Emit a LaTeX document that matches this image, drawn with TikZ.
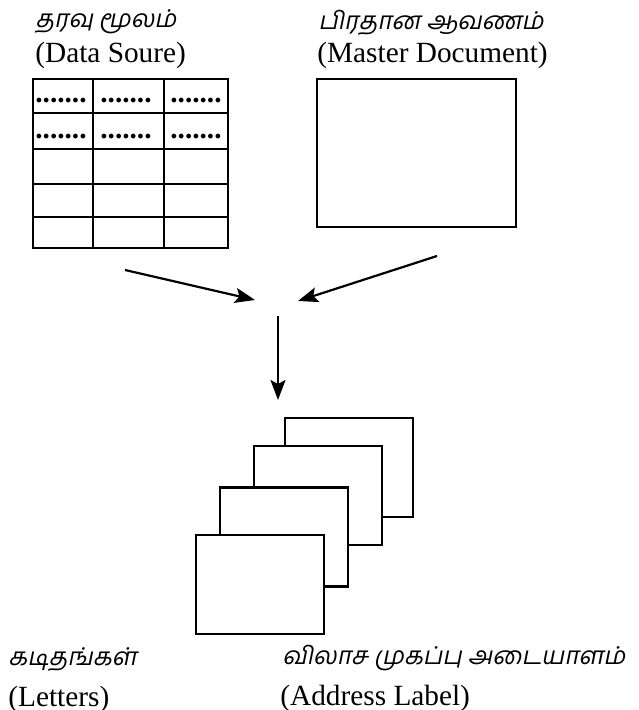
\documentclass[tikz,border=0pt]{standalone}
\usepackage{fontspec}
\setmainfont{Liberation Serif}
\newfontfamily\tamilfont[Script=Tamil,FakeSlant=0.2]{Hind Madurai}
\usetikzlibrary{positioning,arrows.meta}

\tikzset{
	page/.style={draw, fill=white, line width=1.2pt, inner sep=0pt, minimum width=64pt, minimum height=49.5pt},
	grid/.style={line width=1.2pt},
	tamil/.style={anchor=base west, inner sep=0pt, font=\tamilfont\fontsize{12.3}{15}\selectfont},
	eng/.style={anchor=base west, inner sep=0pt, font=\fontsize{14.65}{17}\selectfont},
	dots/.style={anchor=base, inner sep=0pt, font=\bfseries\fontsize{14.65}{17}\selectfont},
	flow/.style={line width=1.1pt, -{Stealth[length=10pt,width=7.5pt,inset=2pt]}}
}

\begin{document}
\begin{tikzpicture}[x=0.5pt,y=-0.5pt]
		\useasboundingbox (0,0) rectangle (638,710);
		
		% labels
		\node[tamil] (srcta) at (35,28) {தரவு மூலம்};
		\node[eng] (srcen) at (35,63) {(Data Soure)};
		\node[tamil] (mainta) at (318,30) {பிரதான ஆவணம்};
		\node[eng] (mainen) at (317,63) {(Master Document)};
		\node[tamil] (letta) at (8,665) {கடிதங்கள்};
		\node[eng] (leten) at (8,706) {(Letters)};
		\node[tamil] (addrta) at (282,664) {விலாச முகப்பு அடையாளம்};
		\node[eng] (addren) at (280,705) {(Address Label)};
		
		% data source table
		\draw[grid] (33,79) rectangle (228,248);
		\draw[grid] (93,79) -- (93,248);
		\draw[grid] (164,79) -- (164,248);
		\draw[grid] (33,113) -- (228,113);
		\draw[grid] (33,149) -- (228,149);
		\draw[grid] (33,184) -- (228,184);
		\draw[grid] (33,217) -- (228,217);
		\node[dots] (d11) at (61,103) {.......};
		\node[dots] (d12) at (126,103) {.......};
		\node[dots] (d13) at (196,103) {.......};
		\node[dots] (d21) at (61,139) {.......};
		\node[dots] (d22) at (126,139) {.......};
		\node[dots] (d23) at (196,139) {.......};
		
		% master document
		\node[page, minimum width=99.5pt, minimum height=74pt] (master) at (416.5,153) {};
		
		% merged pages
		\node[page] (page4) at (349,467.5) {};
		\node[page] (page3) at (318,495.5) {};
		\node[page] (page2) at (284,537) {};
		\node[page] (page1) at (260,584.5) {};
		
		% arrows
		\coordinate (srcout) at (125,270);
		\coordinate (srcin) at (255,300);
		\coordinate (mainout) at (437,256);
		\coordinate (mainin) at (298,301);
		\coordinate (mergeout) at (278,316);
		\coordinate (mergein) at (278,400);
		\draw[flow] (srcout) -- (srcin);
		\draw[flow] (mainout) -- (mainin);
		\draw[flow] (mergeout) -- (mergein);
\end{tikzpicture}
\end{document}
